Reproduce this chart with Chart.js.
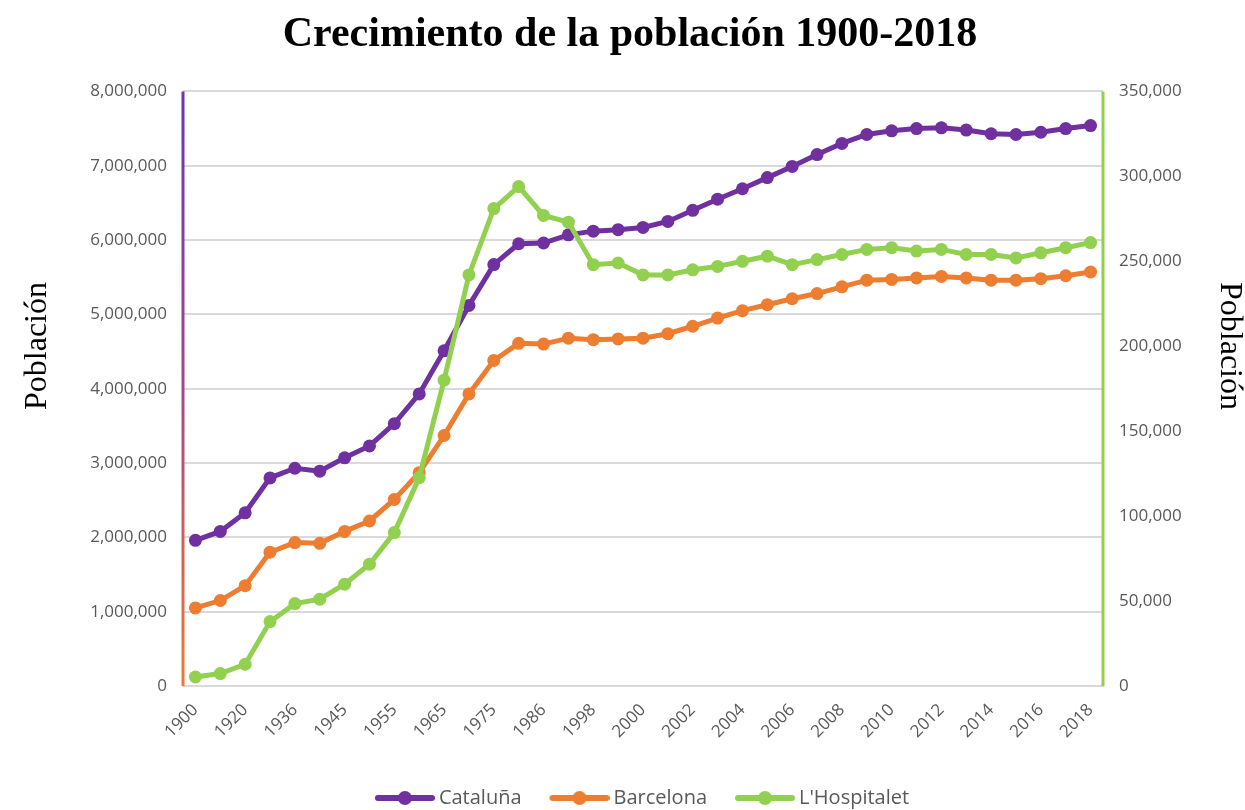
<!DOCTYPE html>
<html>
<head>
<meta charset="utf-8">
<script src="https://cdn.jsdelivr.net/npm/chart.js@4/dist/chart.umd.min.js"></script>
<style>
body{margin:0;background:#fff;}
#wrap{width:1245px;height:810px;}
</style>
</head>
<body>
<div id="wrap"><canvas id="myChart"></canvas></div>
<script>
const years=[1900,1910,1920,1930,1936,1940,1945,1950,1955,1960,1965,1970,1975,1981,1986,1991,1998,1999,2000,2001,2002,2003,2004,2005,2006,2007,2008,2009,2010,2011,2012,2013,2014,2015,2016,2017,2018];
const cataluna=[1960000,2080000,2330000,2800000,2930000,2890000,3070000,3230000,3530000,3930000,4510000,5120000,5670000,5950000,5960000,6070000,6120000,6140000,6170000,6250000,6400000,6550000,6690000,6840000,6990000,7150000,7300000,7420000,7470000,7500000,7510000,7480000,7430000,7420000,7450000,7500000,7540000];
const barcelona=[1050000,1150000,1350000,1800000,1930000,1920000,2080000,2220000,2510000,2870000,3370000,3930000,4380000,4610000,4600000,4680000,4660000,4670000,4680000,4740000,4840000,4950000,5050000,5130000,5210000,5280000,5370000,5460000,5470000,5490000,5510000,5490000,5460000,5460000,5480000,5520000,5570000];
const hospitalet=[5300,7300,12800,37900,48500,51100,59900,71700,90300,122700,180000,242000,281000,294000,277000,273000,248000,249000,242000,242000,245000,247000,250000,253000,248000,251000,254000,257000,258000,256000,257000,254000,254000,252000,255000,258000,261000];
const seriesNames=["Cataluña","Barcelona","L'Hospitalet"];
const seriesColors=["#7030A0","#ED7D31","#92D050"];
const leftTicks=[0,8000000,1000000]; // min,max,step
const rightTicks=[0,350000,50000];
const axisTitle='Población';

const grey='#595959';
const serif='"Liberation Serif", "Times New Roman", serif';
const sans='"Open Sans", sans-serif';

// little line+dot picture for the legend (left part is blank = gap between items)
const legendIcon=(color)=>{
    const c=document.createElement('canvas');
    c.width=90;c.height=16;
    const g=c.getContext('2d');
    g.strokeStyle=color;g.lineWidth=6;g.lineCap='round';
    g.beginPath();g.moveTo(33,8);g.lineTo(87,8);g.stroke();
    g.fillStyle=color;
    g.beginPath();g.arc(60,8,7,0,Math.PI*2);g.fill();
    return c;
};

// left axis line goes purple -> orange, right one is green, plus the two axis titles
const axisLines={
    id:'axisLines',
    beforeDatasetsDraw(chart){
        const {ctx,chartArea}=chart;
        const grad=ctx.createLinearGradient(0,chartArea.top,0,chartArea.bottom);
        grad.addColorStop(0,'#6a35b0');
        grad.addColorStop(0.5,'#a04a8a');
        grad.addColorStop(1,'#ED7D31');
        ctx.save();
        ctx.lineWidth=3;
        ctx.strokeStyle=grad;
        ctx.beginPath();ctx.moveTo(chartArea.left,chartArea.top);ctx.lineTo(chartArea.left,chartArea.bottom);ctx.stroke();
        ctx.strokeStyle='#92D050';
        ctx.beginPath();ctx.moveTo(chartArea.right,chartArea.top);ctx.lineTo(chartArea.right,chartArea.bottom);ctx.stroke();
        ctx.restore();
    },
    afterDraw(chart){
        const {ctx}=chart;
        ctx.save();
        ctx.font='32px '+serif;
        ctx.fillStyle='#000';
        ctx.textAlign='center';
        ctx.textBaseline='middle';
        ctx.translate(38,346);ctx.rotate(-Math.PI/2);ctx.fillText(axisTitle,0,0);
        ctx.restore();
        ctx.save();
        ctx.font='32px '+serif;
        ctx.fillStyle='#000';
        ctx.textAlign='center';
        ctx.textBaseline='middle';
        ctx.translate(1229,346);ctx.rotate(Math.PI/2);ctx.fillText(axisTitle,0,0);
        ctx.restore();
    }
};

const mkSet=(i,data,axis,order)=>({
    label:seriesNames[i],
    data:data,
    yAxisID:axis,
    borderColor:seriesColors[i],
    backgroundColor:seriesColors[i],
    borderWidth:5,
    pointRadius:6.5,
    pointHoverRadius:6.5,
    pointBorderWidth:0,
    tension:0,
    order:order
});

const ctx=document.getElementById('myChart');
const myChart=new Chart(ctx,{
    type:'line',
    data:{
        labels:years,
        datasets:[mkSet(0,cataluna,'y',0),mkSet(1,barcelona,'y',0),mkSet(2,hospitalet,'y1',-1)]
    },
    plugins:[axisLines],
    options:{
        responsive:true,
        maintainAspectRatio:false,
        animation:false,
        locale:'en-US',
        layout:{padding:{left:15,right:0,top:0,bottom:-8}},
        plugins:{
            title:{
                display:true,
                text:'Crecimiento de la población 1900-2018',
                color:'#000',
                font:{family:serif,size:42,weight:'bold'},
                padding:{top:10,bottom:31}
            },
            legend:{
                position:'bottom',
                labels:{
                    usePointStyle:true,
                    pointStyleWidth:78,
                    boxHeight:16,
                    color:grey,
                    font:{family:sans,size:20},
                    padding:4,
                    sort:(a,b)=>a.datasetIndex-b.datasetIndex,
                    generateLabels(chart){
                        const items=Chart.defaults.plugins.legend.labels.generateLabels(chart);
                        items.forEach(it=>{it.pointStyle=legendIcon(seriesColors[it.datasetIndex]);});
                        return items;
                    }
                }
            },
            tooltip:{enabled:false}
        },
        scales:{
            x:{
                offset:true,
                grid:{display:false},
                border:{color:'#d9d9d9',width:2},
                ticks:{
                    autoSkip:false,
                    minRotation:45,
                    maxRotation:45,
                    padding:6,
                    color:grey,
                    font:{family:sans,size:17},
                    callback:function(v,i){return i%2===0?this.getLabelForValue(v):'';}
                },
                afterFit(s){s.height=98;}
            },
            y:{
                position:'left',
                min:leftTicks[0],max:leftTicks[1],
                grid:{color:'#d9d9d9',lineWidth:2,drawTicks:false},
                border:{display:false},
                ticks:{stepSize:leftTicks[2],padding:16,color:grey,font:{family:sans,size:17}},
                afterFit(s){s.width=168;}
            },
            y1:{
                position:'right',
                min:rightTicks[0],max:rightTicks[1],
                grid:{display:false,drawTicks:false},
                border:{display:false},
                ticks:{stepSize:rightTicks[2],padding:16,color:grey,font:{family:sans,size:17}},
                afterFit(s){s.width=142;}
            }
        }
    }
});
</script>
</body>
</html>
